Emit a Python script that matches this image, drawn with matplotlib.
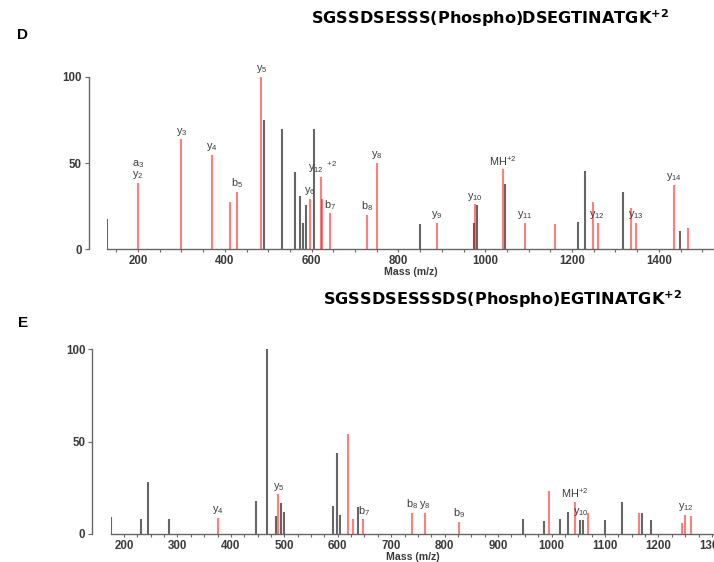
import matplotlib
matplotlib.use("Agg")
import matplotlib.pyplot as plt
from matplotlib.ticker import MultipleLocator

plt.rcParams['font.family'] = ['Liberation Sans', 'DejaVu Sans']
plt.rcParams['mathtext.fontset'] = 'custom'
plt.rcParams['mathtext.rm'] = 'Liberation Sans'
plt.rcParams['mathtext.it'] = 'Liberation Sans:italic'
plt.rcParams['mathtext.bf'] = 'Liberation Sans:bold'

# ---------------- Panel D data ----------------
d_gray_mz = [128, 490, 532, 561.5, 573.6, 579, 588, 604.5, 850, 973, 981.5, 1045, 1213, 1229, 1317, 1447.7]
d_gray_int = [17.4, 74.9, 69.7, 45, 31, 15, 25.7, 70, 14.7, 15, 25.7, 37.6, 15.6, 45.6, 33.4, 10.2]
d_red_mz = [200, 300, 371, 411, 429, 484.5, 596, 622.6, 624.5, 641.5, 728, 751, 888.5, 977,
            1040.8, 1091, 1160, 1247.7, 1260, 1336, 1347, 1434.6, 1466]
d_red_int = [38.6, 63.7, 54.6, 27.6, 33.4, 100, 29, 42, 29, 20.8, 20, 50, 15, 26,
             46.3, 15.4, 14.7, 27.6, 15.4, 23.7, 15.4, 37.3, 12.2]
d_label_text = [r'$\mathregular{a_3}$' + '\n' + r'$\mathregular{y_2}$', r'$\mathregular{y_3}$',
                r'$\mathregular{y_4}$', r'$\mathregular{b_5}$', r'$\mathregular{y_5}$',
                r'$\mathregular{y_6}$', r'$\mathregular{y_{12}}^{\ \ \mathregular{+2}}$',
                r'$\mathregular{b_7}$', r'$\mathregular{b_8}$', r'$\mathregular{y_8}$',
                r'$\mathregular{y_9}$', r'$\mathregular{y_{10}}$', r'$\mathregular{MH^{+2}}$',
                r'$\mathregular{y_{11}}$', r'$\mathregular{y_{12}}$', r'$\mathregular{y_{13}}$',
                r'$\mathregular{y_{14}}$']
d_label_mz = [200, 300, 371, 429, 484.5, 596, 626, 643, 728, 751, 888.5, 977, 1040.8, 1091, 1258, 1347, 1434.6]
d_label_int = [38.6, 63.7, 54.6, 33.4, 100, 29, 42, 20.8, 20, 50, 15, 26, 46.3, 15.4, 15.4, 15.4, 37.3]
d_xticks = [200, 400, 600, 800, 1000, 1200, 1400]
d_title = r'SGSSDSESSS(Phospho)DSEGTINATGK$^{\mathbf{+2}}$'

# ---------------- Panel E data ----------------
e_gray_mz = [175, 231, 245, 285, 447, 467.7, 484, 494, 499, 591, 599, 605, 637,
             947, 986, 1016, 1031, 1053, 1058, 1100, 1132, 1170, 1186]
e_gray_int = [9.4, 7.9, 28, 8.3, 17.8, 100, 9.7, 16.6, 11.9, 15.3, 44, 10.3, 14.8,
              7.9, 7.0, 7.9, 12.1, 7.6, 7.6, 7.6, 17.5, 11.2, 7.6]
e_red_mz = [376, 489, 620, 628, 647, 739, 763, 826, 995, 1044, 1069, 1164, 1244, 1250, 1261]
e_red_int = [8.8, 21.4, 53.9, 8.1, 7.9, 11.2, 11.5, 6.7, 23.2, 17.5, 11.5, 11.5, 6.1, 10.3, 9.7]
e_label_text = [r'$\mathregular{y_4}$', r'$\mathregular{y_5}$', r'$\mathregular{b_7}$',
                r'$\mathregular{b_8}$', r'$\mathregular{y_8}$', r'$\mathregular{b_9}$',
                r'$\mathregular{MH^{+2}}$', r'$\mathregular{y_{10}}$', r'$\mathregular{y_{12}}$']
e_label_mz = [376, 489, 649, 739, 763, 826, 1044, 1055, 1252]
e_label_int = [8.8, 21.4, 7.9, 11.2, 11.5, 6.7, 17.5, 7.6, 10.3]
e_xticks = [200, 300, 400, 500, 600, 700, 800, 900, 1000, 1100, 1200, 1300]
e_title = r'SGSSDSESSSDS(Phospho)EGTINATGK$^{\mathbf{+2}}$'

yticks = [0, 50, 100]

GRAY = '#666666'
RED = (1.0, 0.0, 0.0, 0.5)
TXT = '#3a3a3a'

fig = plt.figure(figsize=(7.14, 5.62), dpi=100)


def panel(rect, xlim, minor, gray_mz, gray_int, red_mz, red_int,
          lab_text, lab_mz, lab_int, xticks, offset_pt):
    ax = fig.add_axes(rect)
    ax.vlines(gray_mz, 0, gray_int, colors=GRAY, linewidth=1.5, zorder=2)
    ax.vlines(red_mz, 0, red_int, colors=[RED], linewidth=1.5, zorder=3)
    for t, m, v in zip(lab_text, lab_mz, lab_int):
        ax.text(m, v + 1.0, t, ha='center', va='bottom', fontsize=7.8,
                color=TXT, clip_on=False, linespacing=0.9, zorder=4)
    ax.set_xlim(*xlim)
    ax.set_ylim(0, 100)
    ax.set_xticks(xticks)
    ax.xaxis.set_minor_locator(MultipleLocator(minor))
    ax.set_yticks(yticks)
    for s in ['top', 'right']:
        ax.spines[s].set_visible(False)
    ax.spines['left'].set_position(('outward', offset_pt))
    ax.spines['left'].set_bounds(0, 100)
    for s in ['left', 'bottom']:
        ax.spines[s].set_color(GRAY)
        ax.spines[s].set_linewidth(1.0)
    ax.tick_params(axis='both', which='both', direction='out', color=GRAY,
                   width=0.8, labelcolor=TXT, labelsize=8.3)
    ax.tick_params(axis='x', which='major', length=2.5, pad=1.5)
    ax.tick_params(axis='x', which='minor', length=2.5)
    ax.tick_params(axis='y', which='major', length=3, pad=2)
    for lbl in ax.get_xticklabels() + ax.get_yticklabels():
        lbl.set_fontweight('bold')
    ax.set_xlabel('Mass (m/z)', fontsize=7.6, fontweight='bold', color=TXT, labelpad=0)
    ax.patch.set_alpha(0)
    return ax


axD = panel([107 / 714, 1 - 249 / 562, (714 - 107) / 714, (249 - 77) / 562],
            (128.6, 1527), 50, d_gray_mz, d_gray_int, d_red_mz, d_red_int,
            d_label_text, d_label_mz, d_label_int, d_xticks, 13)
axE = panel([111 / 714, 1 - 534 / 562, (714 - 111) / 714, (534 - 349) / 562],
            (175.7, 1304), 25, e_gray_mz, e_gray_int, e_red_mz, e_red_int,
            e_label_text, e_label_mz, e_label_int, e_xticks, 13.5)

fig.text(23 / 714, 1 - 35 / 562, 'D', fontsize=11, fontweight='bold', ha='center', va='center')
fig.text(23 / 714, 1 - 323 / 562, 'E', fontsize=11, fontweight='bold', ha='center', va='center')

fig.text(490 / 714, 1 - 18 / 562, d_title, fontsize=11.6, fontweight='bold',
         family='DejaVu Sans', math_fontfamily='dejavusans', ha='center', va='center')
fig.text(503 / 714, 1 - 299 / 562, e_title, fontsize=11.6, fontweight='bold',
         family='DejaVu Sans', math_fontfamily='dejavusans', ha='center', va='center')

fig.savefig('out.png', dpi=100)
